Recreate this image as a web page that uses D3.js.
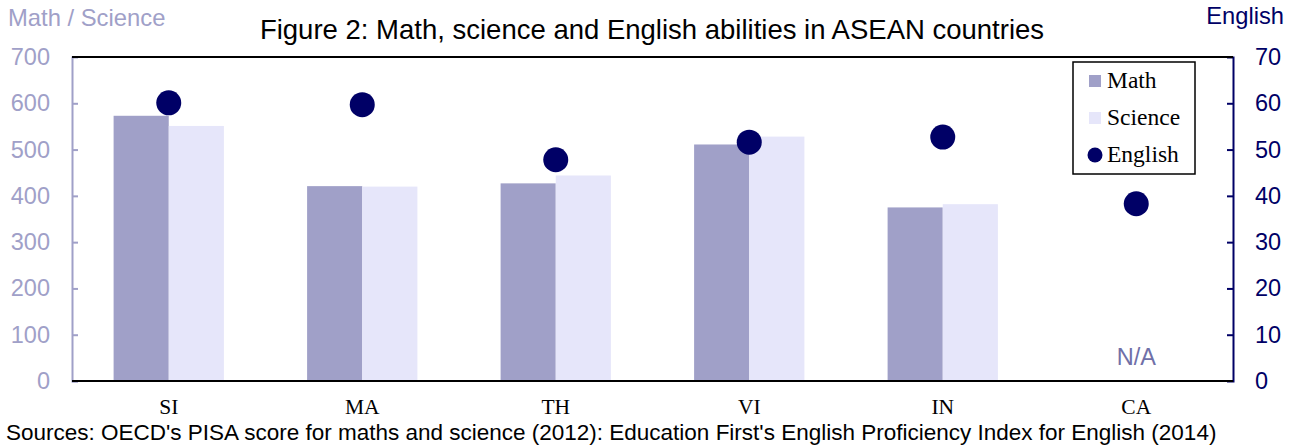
<!DOCTYPE html>
<html>
<head>
<meta charset="utf-8" />
<title>Figure 2</title>
<script src="https://d3js.org/d3.v7.min.js"></script>
<style>
	body { margin: 0; background: #fff; }
	text { font-family: "Liberation Sans", Arial, sans-serif; }
</style>
</head>
<body>
<div id="chart"></div>
<script>
const countries = ["SI", "MA", "TH", "VI", "IN", "CA"];
const mathScores = [573, 421, 427, 511, 375, null];
const scienceScores = [551, 420, 444, 528, 382, null];
const englishScores = [60.1, 59.7, 47.8, 51.6, 52.7, 38.3];
const leftTicks = [0, 100, 200, 300, 400, 500, 600, 700];
const rightTicks = [0, 10, 20, 30, 40, 50, 60, 70];

const width = 1296, height = 448;
const margin = {top: 57, right: 63, bottom: 67, left: 72};
const lav = "#a0a0c8", sci = "#e6e6fa", navy = "#000066";

const svg = d3.select("#chart").append("svg")
	.attr("width", width).attr("height", height);

const x = d3.scaleBand().domain(countries)
	.range([margin.left, width - margin.right]).paddingInner(0.43).paddingOuter(0.215);
const yL = d3.scaleLinear().domain([0, 700]).range([height - margin.bottom, margin.top]);
const yR = d3.scaleLinear().domain([0, 70]).range([height - margin.bottom, margin.top]);
const half = x.bandwidth() / 2;

// bars
svg.append("g").selectAll("rect.m").data(countries.filter((c, i) => mathScores[i] != null))
	.join("rect")
	.attr("x", d => x(d)).attr("width", half)
	.attr("y", d => yL(mathScores[countries.indexOf(d)]))
	.attr("height", d => yL(0) - yL(mathScores[countries.indexOf(d)]))
	.attr("fill", lav);
svg.append("g").selectAll("rect.s").data(countries.filter((c, i) => scienceScores[i] != null))
	.join("rect")
	.attr("x", d => x(d) + half).attr("width", half)
	.attr("y", d => yL(scienceScores[countries.indexOf(d)]))
	.attr("height", d => yL(0) - yL(scienceScores[countries.indexOf(d)]))
	.attr("fill", sci);

// axes
const left = svg.append("g").attr("transform", `translate(${margin.left},0)`)
	.call(d3.axisLeft(yL).tickValues(leftTicks).tickSize(-6).tickPadding(22));
left.selectAll("line, path").attr("stroke", lav).attr("stroke-width", 2);
left.selectAll("text").attr("fill", lav).attr("font-size", 23.5)
	.attr("font-family", "Liberation Sans, Arial, sans-serif");
left.select(".tick:last-of-type line").remove();

const right = svg.append("g").attr("transform", `translate(${width - margin.right},0)`)
	.call(d3.axisRight(yR).tickValues(rightTicks).tickSize(-6).tickPadding(22));
right.selectAll("line, path").attr("stroke", navy).attr("stroke-width", 2);
right.selectAll("text").attr("fill", navy).attr("font-size", 23.5)
	.attr("font-family", "Liberation Sans, Arial, sans-serif");
right.selectAll(".tick").filter(d => d == 0 || d == 70).select("line").remove();

// top and bottom border
svg.append("line").attr("x1", margin.left).attr("x2", width - margin.right)
	.attr("y1", yL(700)).attr("y2", yL(700)).attr("stroke", "#000").attr("stroke-width", 2);
svg.append("line").attr("x1", margin.left).attr("x2", width - margin.right)
	.attr("y1", yL(0)).attr("y2", yL(0)).attr("stroke", "#000").attr("stroke-width", 2);

// english dots
svg.append("g").selectAll("circle").data(countries).join("circle")
	.attr("cx", d => x(d) + half)
	.attr("cy", (d, i) => yR(englishScores[i]))
	.attr("r", 12.5).attr("fill", navy);

// category labels
svg.append("g").selectAll("text").data(countries).join("text")
	.attr("x", d => x(d) + half).attr("y", 414)
	.attr("text-anchor", "middle").attr("font-size", 21.5)
	.style("font-family", "Liberation Serif, Times New Roman, serif")
	.text(d => d);

svg.append("text").attr("x", x("CA") + half).attr("y", 365)
	.attr("text-anchor", "middle").attr("font-size", 23.5).attr("fill", "#7070a8").text("N/A");

// titles
svg.append("text").attr("x", 652).attr("y", 39).attr("text-anchor", "middle")
	.attr("font-size", 27.5).attr("fill", "#000")
	.text("Figure 2: Math, science and English abilities in ASEAN countries");
svg.append("text").attr("x", 8).attr("y", 26).attr("font-size", 23.8).attr("fill", lav)
	.text("Math / Science");
svg.append("text").attr("x", 1284).attr("y", 24).attr("text-anchor", "end")
	.attr("font-size", 23.7).attr("fill", navy).text("English");
svg.append("text").attr("x", 6).attr("y", 440).attr("font-size", 22.5).attr("fill", "#000")
	.text("Sources: OECD's PISA score for maths and science (2012): Education First's English Proficiency Index for English (2014)");

// legend
const lg = svg.append("g").attr("transform", "translate(1073,62)");
lg.append("rect").attr("width", 122).attr("height", 112)
	.attr("fill", "#fff").attr("stroke", "#000").attr("stroke-width", 1.5);
const items = [{name: "Math", c: lav}, {name: "Science", c: sci}, {name: "English", c: navy}];
items.forEach((it, i) => {
	const cy = 19 + i * 37;
	if (i < 2) {
		lg.append("rect").attr("x", 16).attr("y", cy - 6).attr("width", 12).attr("height", 12).attr("fill", it.c);
	} else {
		lg.append("circle").attr("cx", 22).attr("cy", cy).attr("r", 7.5).attr("fill", it.c);
	}
	lg.append("text").attr("x", 34).attr("y", cy + 7).attr("font-size", 23.5)
		.style("font-family", "Liberation Serif, Times New Roman, serif").text(it.name);
});
</script>
</body>
</html>
